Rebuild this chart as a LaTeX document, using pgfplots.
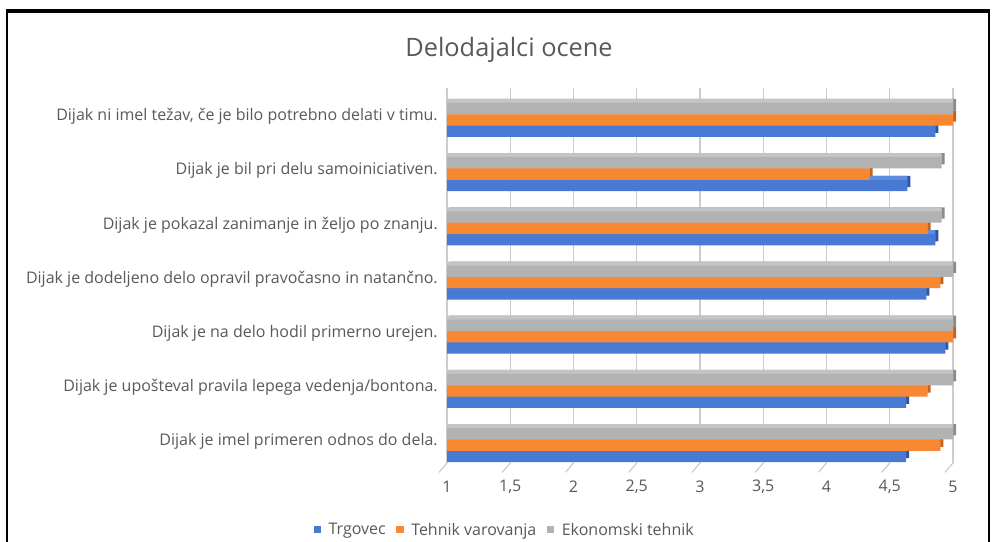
\documentclass[border=0pt]{standalone}
\usepackage{pgfplots}
\pgfplotsset{compat=1.18}
\usepackage{fontspec}
\setmainfont{Open Sans}
\definecolor{cT}{RGB}{72,122,212}
\definecolor{cTs}{RGB}{45,85,160}
\definecolor{cTl}{RGB}{95,142,222}
\definecolor{cV}{RGB}{247,135,48}
\definecolor{cVs}{RGB}{195,100,30}
\definecolor{cVl}{RGB}{250,155,80}
\definecolor{cE}{RGB}{178,178,178}
\definecolor{cEs}{RGB}{140,140,140}
\definecolor{cEl}{RGB}{196,196,196}
\definecolor{txt}{RGB}{89,89,89}
\begin{document}
\begin{tikzpicture}[x=1pt,y=1pt]
\begin{axis}[
  at={(335.25pt,59.25pt)}, anchor=south west,
  scale only axis, width=379.5pt, height=281.25pt,
  xbar, bar width=8.5pt,
  xmin=1, xmax=5, ymin=-0.33, ymax=6.59,
  xtick={1,1.5,2,2.5,3,3.5,4,4.5,5},
  ytick={0,1,2,3,4,5,6},
  yticklabels={Dijak je imel primeren odnos do dela.,
    Dijak je upošteval pravila lepega vedenja/bontona.,
    Dijak je na delo hodil primerno urejen.,
    Dijak je dodeljeno delo opravil pravočasno in natančno.,
    Dijak je pokazal zanimanje in željo po znanju.,
    Dijak je bil pri delu samoiniciativen.,
    {Dijak ni imel težav, če je bilo potrebno delati v timu.}},
  xmajorgrids, major grid style={gray!40, line width=0.8pt},
  axis line style={draw=none}, major tick length=0pt,
  tick label style={font=\fontsize{12}{14}\selectfont, text=txt},
  /pgf/number format/assume math mode=true, /pgf/number format/use comma,
  xticklabel style={anchor=center, yshift=-18pt},
  yticklabel style={anchor=east, inner sep=0pt, xshift=-6.75pt, yshift=2.5pt},
  clip mode=individual,
  title={Delodajalci ocene},
  title style={at={(0.1225,1.080)}, anchor=center, yshift=0pt, font=\fontsize{19}{22}\selectfont, text=txt},
  legend style={at={(0.1136,-0.179)}, anchor=center, draw=none, legend columns=3,
    font=\fontsize{12}{14}\selectfont, text=txt, nodes={inner sep=1pt},
    /tikz/every odd column/.append style={column sep=4.5pt},
    /tikz/every even column/.append style={column sep=7pt}},
  legend image code/.code={\fill[#1] (0pt,-2.2pt) rectangle (5.6pt,3.4pt);},
]
% depth faces (3D effect): dark side, light top
\addplot[forget plot, fill=cTs, draw=none, bar shift=-8.5pt, xshift=2.25pt, yshift=3pt] coordinates {(4.63,0) (4.63,1) (4.94,2) (4.79,3) (4.86,4) (4.64,5) (4.86,6)};
\addplot[forget plot, fill=cTl, draw=none, bar shift=-8.5pt, yshift=3pt] coordinates {(4.63,0) (4.63,1) (4.94,2) (4.79,3) (4.86,4) (4.64,5) (4.86,6)};
\addplot[forget plot, fill=cVs, draw=none, bar shift=0pt, xshift=2.25pt, yshift=3pt] coordinates {(4.90,0) (4.80,1) (5.00,2) (4.90,3) (4.80,4) (4.34,5) (5.00,6)};
\addplot[forget plot, fill=cVl, draw=none, bar shift=0pt, yshift=3pt] coordinates {(4.90,0) (4.80,1) (5.00,2) (4.90,3) (4.80,4) (4.34,5) (5.00,6)};
\addplot[forget plot, fill=cEs, draw=none, bar shift=8.5pt, xshift=2.25pt, yshift=3pt] coordinates {(5.00,0) (5.00,1) (5.00,2) (5.00,3) (4.91,4) (4.91,5) (5.00,6)};
\addplot[forget plot, fill=cEl, draw=none, bar shift=8.5pt, yshift=3pt] coordinates {(5.00,0) (5.00,1) (5.00,2) (5.00,3) (4.91,4) (4.91,5) (5.00,6)};
% front faces
\addplot[fill=cT, draw=none, bar shift=-8.5pt] coordinates {(4.63,0) (4.63,1) (4.94,2) (4.79,3) (4.86,4) (4.64,5) (4.86,6)};
\addplot[fill=cV, draw=none, bar shift=0pt] coordinates {(4.90,0) (4.80,1) (5.00,2) (4.90,3) (4.80,4) (4.34,5) (5.00,6)};
\addplot[fill=cE, draw=none, bar shift=8.5pt] coordinates {(5.00,0) (5.00,1) (5.00,2) (5.00,3) (4.91,4) (4.91,5) (5.00,6)};
\legend{Trgovec, Tehnik varovanja, Ekonomski tehnik}
\pgfplotsinvokeforeach{1,1.5,2,2.5,3,3.5,4,4.5,5}{\draw[gray!45, line width=0.8pt] (axis cs:#1,-0.33) -- ++(-6pt,-7pt);}
\end{axis}
\fill[black] (4.35,-5) rectangle (6.15,399.4);
\fill[black] (740.85,-5) rectangle (742.65,399.4);
\fill[black] (4.35,397) rectangle (742.65,399.4);
\pgfresetboundingbox
\path[use as bounding box] (0,0) rectangle (744,406.5);
\end{tikzpicture}
\end{document}
